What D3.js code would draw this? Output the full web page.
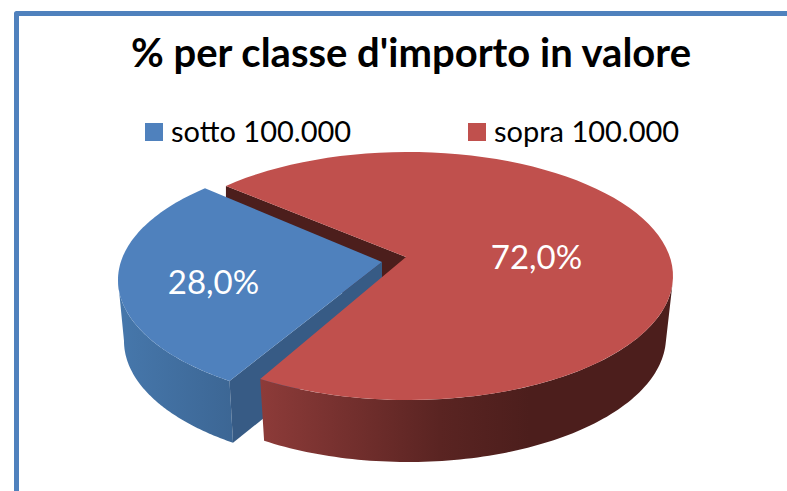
<!DOCTYPE html>
<html>
<head>
<meta charset="utf-8">
<style>
html, body { margin: 0; padding: 0; background: #fff; }
svg { display: block; }
text { font-family: Lato, "Open Sans", sans-serif; }
</style>
</head>
<body>
<svg width="787" height="491"></svg>
<script src="https://d3js.org/d3.v7.min.js"></script>
<script>

var title = "% per classe d'importo in valore";
var categories = ["sotto 100.000", "sopra 100.000"];
var values = [28.0, 72.0];
var topColors = ["#4f81bd", "#c0504d"];

var svg = d3.select("svg"),
    defs = svg.append("defs");

var deg = Math.PI / 180;

// the pie is turned so the blue slice sits on the left
var rotation = 215.5 * deg;

var pie = d3.pie().sort(null)
    .startAngle(rotation)
    .endAngle(rotation + 2 * Math.PI);
var arcs = pie(values);

// each slice: apex of the top face, top rim ellipse, bottom rim ellipse
// skew nudges the cut angles a little, the perspective view squeezes them
var geom = [
  {apex: [382, 262], top: {cx: 384, cy: 280, rx: 266, ry: 124}, bot: {cx: 384, cy: 341, rx: 260, ry: 125}, labelAt: 0.64, labelDy: 3, skew: [0, 1.4 * deg]},
  {apex: [406, 257], top: {cx: 408, cy: 276, rx: 265, ry: 124}, bot: {cx: 408, cy: 337, rx: 258, ry: 125}, labelAt: 0.49, labelDy: -5, skew: [0.3 * deg, -1.6 * deg]}
];

function rim(e, a) {
  return [e.cx + e.rx * Math.sin(a), e.cy - e.ry * Math.cos(a)];
}

function rimPoints(e, a0, a1) {
  var n = 90;
  return d3.range(n + 1).map(function(i) { return rim(e, a0 + (a1 - a0) * i / n); });
}

var line = d3.line();

function gradient(id, x0, x1, stops) {
  var g = defs.append("linearGradient")
      .attr("id", id)
      .attr("gradientUnits", "userSpaceOnUse")
      .attr("x1", x0).attr("x2", x1).attr("y1", 0).attr("y2", 0);
  stops.forEach(function(s) {
    g.append("stop").attr("offset", s[0]).attr("stop-color", s[1]);
  });
}

gradient("blueSide", 120, 235, [[0, "#4677ab"], [1, "#3c6694"]]);
gradient("redSide", 260, 560, [[0, "#8d3b39"], [0.6, "#5a2422"], [0.9, "#4c1e1c"], [1, "#4c1e1c"]]);

var pieG = svg.append("g");

var gb = geom[0], gr = geom[1];
var blueStart = arcs[0].startAngle + gb.skew[0], blueStop = arcs[0].endAngle + gb.skew[1];
var redStartA = arcs[1].startAngle + gr.skew[0], redStop = arcs[1].endAngle + gr.skew[1];
var sideDrop = gr.bot.cy - gr.top.cy;

// inner wall of the red slice, seen in the gap left by the blue one
var redStart = rim(gr.top, redStartA);
pieG.append("path")
    .attr("d", line([redStart, gr.apex, [gr.apex[0], gr.apex[1] + sideDrop], [redStart[0], redStart[1] + sideDrop]]) + "Z")
    .attr("fill", "#4c1e1c");

// blue outer wall
pieG.append("path")
    .attr("d", line(rimPoints(gb.top, blueStart, 1.5 * Math.PI)
        .concat(rimPoints(gb.bot, 1.5 * Math.PI, blueStart))) + "Z")
    .attr("fill", "url(#blueSide)");

// blue inner wall
var blueEnd = rim(gb.top, blueStart), blueEndBot = rim(gb.bot, blueStart);
pieG.append("path")
    .attr("d", line([gb.apex, blueEnd, blueEndBot, [gb.apex[0], gb.apex[1] + sideDrop]]) + "Z")
    .attr("fill", "#375b85");

// blue top face
pieG.append("path")
    .attr("d", line([gb.apex].concat(rimPoints(gb.top, blueStart, blueStop))) + "Z")
    .attr("fill", topColors[0]);

// red outer wall, front half only
var redVisible = 2 * Math.PI + Math.PI / 2 + 0.06;
pieG.append("path")
    .attr("d", line(rimPoints(gr.top, redVisible, redStop)
        .concat(rimPoints(gr.bot, redStop, redVisible))) + "Z")
    .attr("fill", "url(#redSide)");

// red top face
pieG.append("path")
    .attr("d", line([gr.apex].concat(rimPoints(gr.top, redStartA, redStop))) + "Z")
    .attr("fill", topColors[1]);

// data labels
var fmt = function(v) { return v.toFixed(1).replace(".", ",") + "%"; };
pieG.selectAll("text.value")
  .data(arcs)
  .enter().append("text")
    .attr("class", "value")
    .attr("text-anchor", "middle")
    .attr("dy", "0.36em")
    .attr("font-size", 33)
    .attr("fill", "#fff")
    .attr("x", function(d, i) {
      var m = (d.startAngle + d.endAngle) / 2, p = rim(geom[i].top, m);
      return geom[i].apex[0] + geom[i].labelAt * (p[0] - geom[i].apex[0]);
    })
    .attr("y", function(d, i) {
      var m = (d.startAngle + d.endAngle) / 2, p = rim(geom[i].top, m);
      return geom[i].apex[1] + geom[i].labelAt * (p[1] - geom[i].apex[1]) + geom[i].labelDy;
    })
    .text(function(d) { return fmt(d.value); });

// chart frame, only the top and left edges are in the crop
svg.append("path")
    .attr("d", "M16.5,491V13.5H787")
    .attr("fill", "none")
    .attr("stroke", "#4f81bd")
    .attr("stroke-width", 5)
    .attr("stroke-linejoin", "round");

svg.append("text")
    .attr("x", 411)
    .attr("y", 67)
    .attr("text-anchor", "middle")
    .attr("font-size", 40)
    .attr("font-weight", "bold")
    .attr("fill", "#000")
    .text(title);

var legendX = d3.scaleOrdinal().domain(categories).range([145, 468]);

var legend = svg.append("g").selectAll("g")
  .data(categories)
  .enter().append("g")
    .attr("transform", function(d) { return "translate(" + legendX(d) + ",123)"; });

legend.append("rect")
    .attr("width", 18)
    .attr("height", 18)
    .attr("fill", function(d, i) { return topColors[i]; });

legend.append("text")
    .attr("x", 26)
    .attr("y", 19)
    .attr("font-size", 29)
    .attr("fill", "#000")
    .text(function(d) { return d; });

</script>
</body>
</html>
